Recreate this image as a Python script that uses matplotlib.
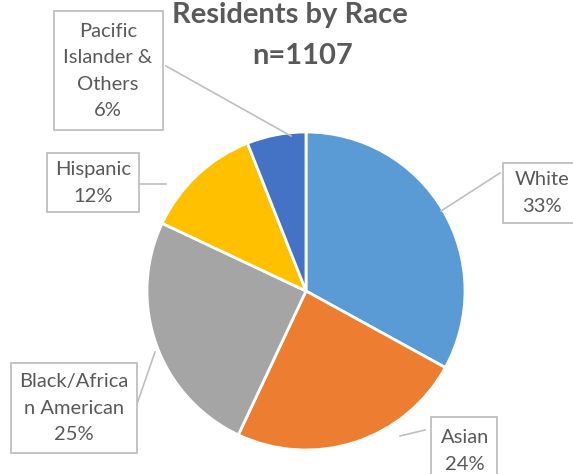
import matplotlib.pyplot as plt
from matplotlib.patches import Rectangle

W, H = 573, 474

races = ['White', 'Asian', 'Black/Africa\nn American', 'Hispanic', 'Pacific\nIslander &\nOthers']
shares = [33, 24, 25, 12, 6]
colors = ['#5B9BD5', '#ED7D31', '#A5A5A5', '#FFC000', '#4472C4']
title = 'Residents by Race'
subtitle = 'n=1107'

# label boxes (left, top, right, bottom) and leader lines, pixel coords from top-left
boxes = [(503, 163, 582, 223),
         (431, 417, 497, 480),
         (11, 363, 137, 453),
         (47, 153, 139, 212),
         (54, 11, 163, 130)]
text_centers = [(542, 193), (465, 451), (74, 408), (93, 183), (108, 71)]
leaders = [((500, 173), (441, 211)),
           ((425, 430), (400, 436)),
           ((137, 404), (155, 352)),
           ((139, 184), (166, 184)),
           ((166, 66), (291, 136))]

plt.rcParams['font.family'] = ['Lato', 'DejaVu Sans']

fig = plt.figure(figsize=(W / 100, H / 100), dpi=100)
ax = fig.add_axes([0, 0, 1, 1])

ax.pie(shares, colors=colors, startangle=90, counterclock=False,
       center=(306, H - 291), radius=159,
       wedgeprops=dict(edgecolor='white', linewidth=2))

ax.set_xlim(0, W)
ax.set_ylim(0, H)
ax.set_aspect('equal')
ax.axis('off')

for (p0, p1) in leaders:
    ax.plot([p0[0], p1[0]], [H - p0[1], H - p1[1]], color='#BFBFBF', lw=1.2, zorder=1)

for name, val, (l, t, r, b), (x, y) in zip(races, shares, boxes, text_centers):
    ax.add_patch(Rectangle((l, H - b), r - l, b - t, fc='white', ec='#BFBFBF',
                           lw=1.3, zorder=3))
    ax.text(x, H - y, f'{name}\n{val}%', ha='center', va='center', fontsize=14.5,
            color='#595959', linespacing=1.65, zorder=4)

ax.text(290, H - 15, title, ha='center', va='center', fontsize=21,
        fontweight='bold', color='#595959')
ax.text(303, H - 56, subtitle, ha='center', va='center', fontsize=21,
        fontweight='bold', color='#595959')

fig.savefig('out.png', dpi=100)
